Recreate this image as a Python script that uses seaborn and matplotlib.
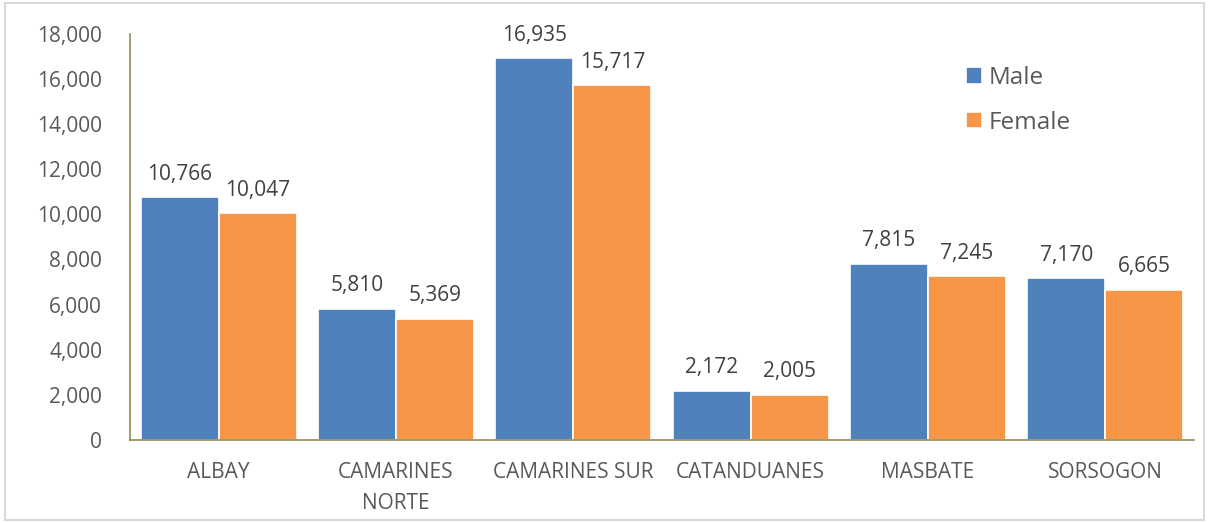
import pandas as pd
import matplotlib
matplotlib.use('Agg')
import matplotlib.pyplot as plt
import seaborn as sns
from matplotlib.patches import Rectangle
from matplotlib.ticker import FuncFormatter

provinces = ['ALBAY', 'CAMARINES\nNORTE', 'CAMARINES SUR', 'CATANDUANES', 'MASBATE', 'SORSOGON']
male = [10766, 5810, 16935, 2172, 7815, 7170]
female = [10047, 5369, 15717, 2005, 7245, 6665]

df = pd.DataFrame({'province': provinces * 2,
                   'count': male + female,
                   'sex': ['Male'] * len(provinces) + ['Female'] * len(provinces)})

sns.set_theme(style='white')
plt.rcParams['font.family'] = ['Open Sans', 'DejaVu Sans']

fig = plt.figure(figsize=(12.09, 5.23), dpi=100)
ax = fig.add_axes([0.1075, 0.159, 0.88, 0.776])

sns.barplot(data=df, x='province', y='count', hue='sex',
            palette={'Male': '#4F81BD', 'Female': '#F79646'},
            width=0.88, edgecolor='white', linewidth=1.2, saturation=1, ax=ax)

for cont in ax.containers:
    ax.bar_label(cont, labels=[f'{int(v):,}' for v in cont.datavalues],
                 padding=9, fontsize=15, color='#404040')

ax.set_ylim(0, 18000)
ax.set_yticks(range(0, 18001, 2000))
ax.yaxis.set_major_formatter(FuncFormatter(lambda v, p: f'{int(v):,}'))
ax.set_xlim(-0.5, len(provinces) - 0.5)
ax.tick_params(axis='y', labelsize=15, labelcolor='#595959', length=0, pad=20)
ax.tick_params(axis='x', labelsize=15, labelcolor='#595959', length=0, pad=16)
for lab in ax.get_xticklabels():
    lab.set_linespacing(1.6)
ax.set_xlabel('')
ax.set_ylabel('')

for s in ['top', 'right']:
    ax.spines[s].set_visible(False)
for s in ['left', 'bottom']:
    ax.spines[s].set_color('#948A54')
    ax.spines[s].set_linewidth(1.2)

leg = ax.legend(loc='upper left', bbox_to_anchor=(0.765, 0.975), frameon=False,
                fontsize=17.5, handlelength=0.65, handleheight=0.65,
                handletextpad=0.3, labelspacing=0.85, labelcolor='#595959')

fig.patches.append(Rectangle((0.004, 0.006), 0.992, 0.988, transform=fig.transFigure,
                             fill=False, edgecolor='#D9D9D9', linewidth=1.5))

fig.savefig('out.png', dpi=100)
